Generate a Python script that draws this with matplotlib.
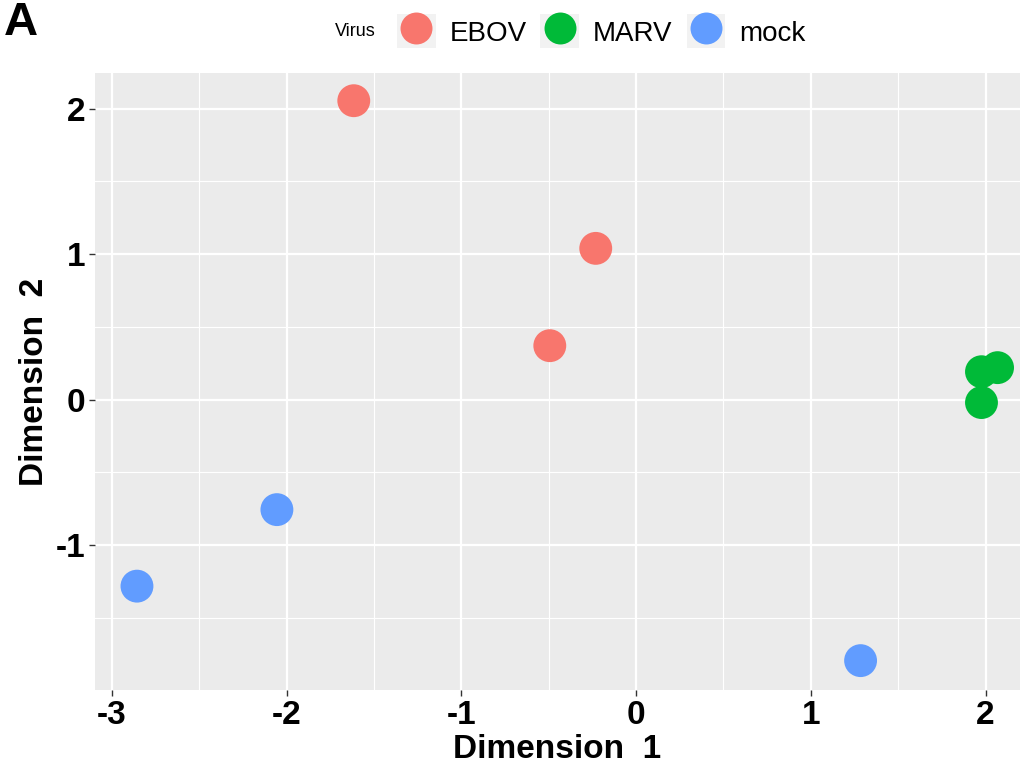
import matplotlib.pyplot as plt
from matplotlib.lines import Line2D
from matplotlib.patches import Rectangle
from matplotlib.legend_handler import HandlerTuple

plt.rcParams['font.family'] = ['Liberation Sans', 'DejaVu Sans']
plt.rcParams['axes.unicode_minus'] = False

# MDS coordinates
groups = ['EBOV', 'MARV', 'mock']
colors = ['#F8766D', '#00BA38', '#619CFF']
dim1 = {
    'EBOV': [-1.616, -0.231, -0.494],
    'MARV': [1.977, 2.069, 1.977],
    'mock': [-2.056, -2.857, 1.285],
}
dim2 = {
    'EBOV': [2.055, 1.04, 0.371],
    'MARV': [0.192, 0.22, -0.02],
    'mock': [-0.756, -1.282, -1.794],
}
xticks = [-3, -2, -1, 0, 1, 2]
yticks = [-1, 0, 1, 2]

fig = plt.figure(figsize=(10.33, 7.66), dpi=100)
ax = fig.add_axes([0.092, 0.099, 0.895, 0.806])
ax.set_facecolor('#EBEBEB')

for g, c in zip(groups, colors):
    ax.scatter(dim1[g], dim2[g], s=560, color=c, edgecolors='none', zorder=3)

ax.set_xlim(-3.097, 2.195)
ax.set_ylim(-1.997, 2.247)
ax.set_xticks(xticks)
ax.set_yticks(yticks)
ax.set_xticks([-2.5, -1.5, -0.5, 0.5, 1.5], minor=True)
ax.set_yticks([-1.5, -0.5, 0.5, 1.5], minor=True)
ax.grid(True, which='major', color='white', linewidth=1.6)
ax.grid(True, which='minor', color='white', linewidth=0.8)
ax.set_axisbelow(True)
for sp in ax.spines.values():
    sp.set_visible(False)
ax.tick_params(which='major', length=4, width=1, color='#333333', labelsize=24, pad=3)
ax.tick_params(which='minor', length=0)
for lab in ax.get_xticklabels() + ax.get_yticklabels():
    lab.set_fontweight('bold')
    lab.set_color('black')

ax.set_xlabel('Dimension  1', fontsize=24, fontweight='bold', labelpad=2)
ax.set_ylabel('Dimension  2', fontsize=24, fontweight='bold', labelpad=4)

# legend with ggplot-like grey key boxes
handles = []
for c in colors:
    box = Rectangle((0, 0), 1, 1, facecolor='#F2F2F2', edgecolor='none')
    dot = Line2D([], [], marker='o', linestyle='none', markersize=23,
                 markerfacecolor=c, markeredgecolor='none')
    handles.append((box, dot))
fig.legend(handles, groups, handler_map={tuple: HandlerTuple(ndivide=1)},
           loc='center', bbox_to_anchor=(0.582, 0.959), ncol=3, frameon=False,
           fontsize=20, handlelength=1.4, handleheight=1.5, handletextpad=0.5,
           columnspacing=0.5, borderpad=0)
fig.text(0.324, 0.959, 'Virus', fontsize=13, ha='left', va='center')

fig.text(0.004, 0.999, 'A', fontsize=34, fontweight='bold', ha='left', va='top')

fig.savefig('out.png', dpi=100)
